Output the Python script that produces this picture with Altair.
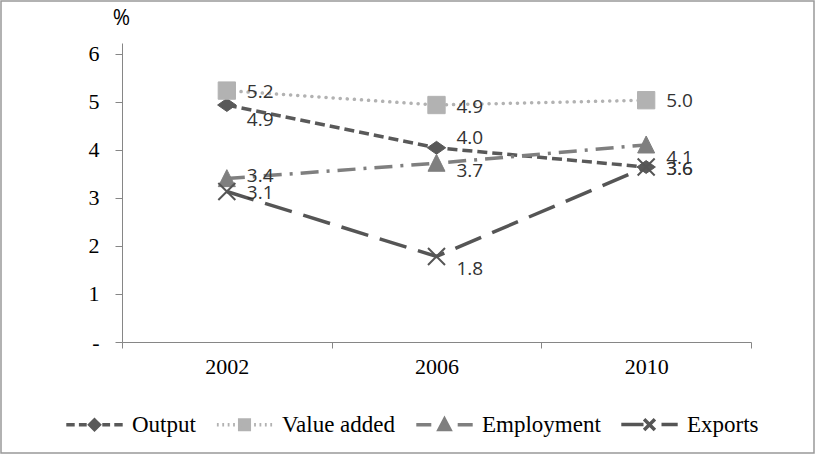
import altair as alt
import pandas as pd

# ---- data ----
years = ["2002", "2006", "2010"]
series = ["Output", "Value added", "Employment", "Exports"]
output = [4.93, 4.04, 3.64]
value_added = [5.23, 4.93, 5.03]
employment = [3.40, 3.72, 4.10]
exports = [3.13, 1.78, 3.64]
values = {"Output": output, "Value added": value_added,
          "Employment": employment, "Exports": exports}

# ---- style: label nudges (px), colours, dashes, markers ----
label_nudge = {"Output": [15, -10, 2], "Value added": [1, 2, 1],
               "Employment": [-3, 8, 13], "Exports": [1, 13, 2]}
colors = {"Output": "#595959", "Value added": "#b2b2b2",
          "Employment": "#7f7f7f", "Exports": "#555555"}
dashes = {"Output": [10, 5], "Value added": [0.1, 7],
          "Employment": [18, 8, 3, 8], "Exports": [28, 12]}
caps = {"Output": "butt", "Value added": "round",
        "Employment": "butt", "Exports": "butt"}
markers = {
    "Output": dict(shape="M-1,0L0,-0.7L1,0L0,0.7Z", size=340, filled=True),
    "Value added": dict(shape="square", size=300, filled=True),
    "Employment": dict(shape="M0,-1.05L1,0.95L-1,0.95Z", size=289, filled=True),
    "Exports": dict(shape="M-1,-1L1,1M-1,1L1,-1", size=289, filled=False),
}
legend_paths = [
    "M-4.7,0L-3.3,0M-2.6,0L-1.3,0M1.3,0L2.6,0M3.3,0L4.7,0M0,-0.8L0.8,0L0,0.8L-0.8,0Z",
    "M-4.6,0L-4.3,0M-3.7,0L-3.4,0M-2.8,0L-2.5,0M-1.9,0L-1.6,0M1.6,0L1.9,0M2.5,0L2.8,0M3.4,0L3.7,0M4.3,0L4.6,0M-0.8,-0.8L0.8,-0.8L0.8,0.8L-0.8,0.8Z",
    "M-4.7,0L-2.2,0M2.2,0L4.7,0M0,-0.9L0.9,0.8L-0.9,0.8Z",
    "M-4.7,0L-1.0,0M-0.9,-0.9L0.9,0.9M-0.9,0.9L0.9,-0.9M2.0,0L4.7,0",
]

rows = []
for s in series:
    for i, y in enumerate(years):
        rows.append({"year": y, "series": s, "value": values[s][i]})
df = pd.DataFrame(rows)

SERIF = "Liberation Serif"
SANS = "Open Sans"

x_enc = alt.X("year:O", sort=years,
              scale=alt.Scale(type="band", paddingInner=0, paddingOuter=0),
              axis=alt.Axis(title=None, labelAngle=0, tickBand="extent",
                            domainColor="#868686", tickColor="#868686",
                            tickSize=6, labelFont=SERIF, labelFontSize=22,
                            labelColor="#000", labelPadding=8, grid=False))
y_enc = alt.Y("value:Q",
              scale=alt.Scale(domain=[0, 6.22], nice=False, zero=True),
              axis=alt.Axis(values=[0, 1, 2, 3, 4, 5, 6], title="%",
                            titleAngle=0, titleX=-1, titleY=-25,
                            titleAlign="center", titleBaseline="middle",
                            titleFont=SANS, titleFontSize=21,
                            titleFontWeight="normal", titleColor="#000",
                            labelExpr="datum.value == 0 ? '-' : datum.label",
                            domainColor="#868686", tickColor="#868686",
                            tickSize=7, labelFont=SERIF, labelFontSize=22,
                            labelColor="#000", labelPadding=16, grid=False))

base = alt.Chart(df).encode(x=x_enc, y=y_enc)

layers = []
for s in series:
    sub = base.transform_filter(alt.datum.series == s)
    layers.append(sub.mark_line(color=colors[s], strokeWidth=3.5,
                                strokeDash=dashes[s], strokeCap=caps[s]))
for s in series:
    sub = base.transform_filter(alt.datum.series == s)
    m = markers[s]
    if m["filled"]:
        layers.append(sub.mark_point(shape=m["shape"], size=m["size"],
                                     filled=True, fill=colors[s],
                                     stroke=colors[s], strokeWidth=1,
                                     opacity=1))
    else:
        layers.append(sub.mark_point(shape=m["shape"], size=m["size"],
                                     filled=False, stroke=colors[s],
                                     strokeWidth=2, opacity=1))

for s in series:
    for i, yr in enumerate(years):
        sub = base.transform_filter(
            (alt.datum.series == s) & (alt.datum.year == yr))
        layers.append(sub.mark_text(
            align="left", baseline="middle", dx=20, dy=label_nudge[s][i],
            font=SANS, fontSize=19, color="#333").encode(
            text=alt.Text("value:Q", format=".1f")))

leg = alt.Legend(title=None, orient="none", legendX=-39, legendY=370,
                 direction="horizontal", columns=4, symbolSize=144,
                 symbolStrokeWidth=3.5, symbolOpacity=1, labelFont=SERIF,
                 labelFontSize=23, labelColor="#000", labelOffset=26,
                 columnPadding=13, labelLimit=300)
col_range = [colors[s] for s in series]
legend_layer = alt.Chart(df).mark_point(opacity=0, filled=True).encode(
    x=x_enc, y=y_enc,
    shape=alt.Shape("series:N", scale=alt.Scale(domain=series, range=legend_paths), legend=leg),
    fill=alt.Fill("series:N", scale=alt.Scale(domain=series, range=col_range), legend=leg),
    stroke=alt.Stroke("series:N", scale=alt.Scale(domain=series, range=col_range), legend=leg),
)
layers.append(legend_layer)

frame = alt.Chart(pd.DataFrame({"f": [0]})).mark_rect(
    fill="transparent", stroke="#999999", strokeWidth=1.5).encode(
    x=alt.value(-121), x2=alt.value(692), y=alt.value(-42), y2=alt.value(410))
layers.append(frame)

chart = alt.layer(*layers).properties(
    width=629, height=299,
    autosize=alt.AutoSizeParams(type="none"),
    padding={"left": 122, "top": 43, "right": 64, "bottom": 112},
    background="white",
).configure_view(strokeWidth=0)

chart.save("out.html", embed_options={"renderer": "svg", "actions": False})
